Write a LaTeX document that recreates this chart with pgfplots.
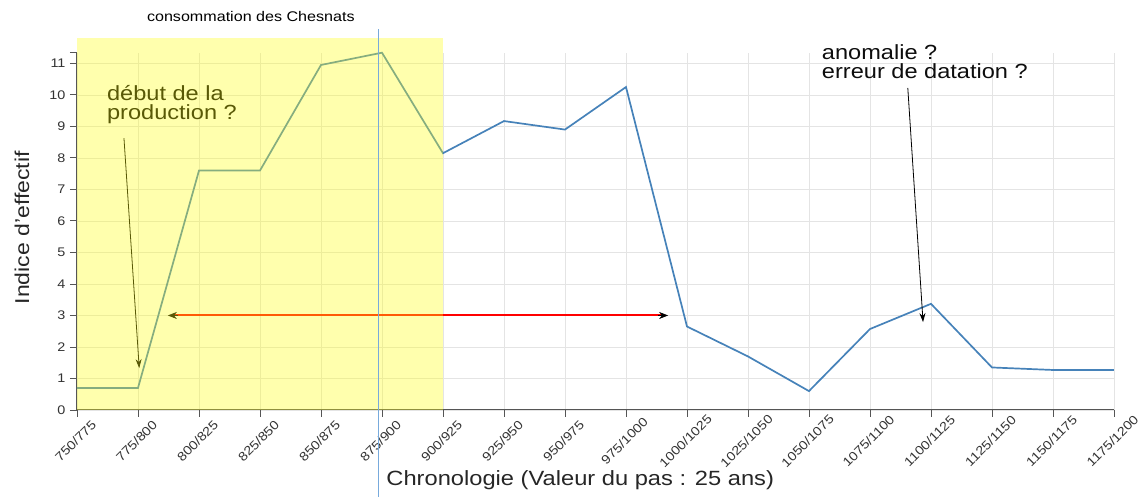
\documentclass[border=0pt]{standalone}
\usepackage{fontspec}
\setmainfont{Liberation Sans}[FakeStretch=1.15]
\usepackage{pgfplots}
\pgfplotsset{compat=1.18}
\usetikzlibrary{arrows.meta}
\definecolor{lineblue}{RGB}{70,130,185}
\definecolor{gridc}{RGB}{228,228,228}
\definecolor{axc}{RGB}{85,85,85}
\definecolor{yel}{RGB}{255,255,20}
\definecolor{vline}{RGB}{120,170,220}
\begin{document}
\begin{tikzpicture}
\begin{axis}[
  at={(0,0)}, anchor=south west,
  scale only axis, width=1037pt, height=357.3pt,
  xmin=0, xmax=17, ymin=0, ymax=11.34,
  axis x line*=bottom, axis y line*=left,
  axis line style={axc, line width=1pt},
  xtick={0,...,17},
  xticklabels={750/775,775/800,800/825,825/850,850/875,875/900,900/925,925/950,950/975,975/1000,1000/1025,1025/1050,1050/1075,1075/1100,1100/1125,1125/1150,1150/1175,1175/1200},
  ytick={0,...,11},
  extra y ticks={11.34}, extra y tick labels={}, extra y tick style={grid=none},
  tick style={axc, line width=0.9pt}, tick align=outside, major tick length=7pt,
  grid=major, grid style={gridc, line width=0.8pt},
  /pgf/number format/assume math mode=true,
  ticklabel style={font=\fontsize{12.5}{12.5}\selectfont, text=black!80},
  xticklabel style={yshift=-24pt, xshift=-1.5pt, rotate=45, anchor=center},
  yticklabel style={xshift=-1pt},
  clip=false,
]
\addplot[lineblue, line width=1.7pt, mark=none] coordinates {
(0,0.7) (1,0.7) (2,7.6) (3,7.6) (4,10.95) (5,11.34) (6,8.15) (7,9.17) (8,8.9)
(9,10.25) (10,2.65) (11,1.7) (12,0.6) (13,2.57) (14,3.37) (15,1.35) (16,1.27) (17,1.27)
};
% red double arrow
\addplot[color=red, line width=2pt, mark=none, forget plot] coordinates {(1.6,3) (9.58,3)};
\draw[black, line width=0.6pt, -{Stealth[length=9pt,width=7pt]}] (axis cs:1.66,3) -- (axis cs:1.49,3);
\draw[black, line width=0.6pt, -{Stealth[length=9pt,width=7pt]}] (axis cs:9.52,3) -- (axis cs:9.69,3);
% annotation arrows
\draw[black, line width=0.8pt, -{Stealth[length=9pt,width=6pt]}] (axis cs:0.77,8.63) -- (axis cs:1.02,1.33);
\draw[black, line width=0.8pt, -{Stealth[length=9pt,width=6pt]}] (axis cs:13.62,10.22) -- (axis cs:13.87,2.79);
% annotation texts
\node[anchor=north west, inner sep=0pt, align=left, font=\fontsize{20.5}{19}\selectfont, text=black] at (axis cs:0.49,10.32) {début de la\\production ?};
\node[anchor=north west, inner sep=0pt, align=left, font=\fontsize{20.5}{19}\selectfont, text=black!95] at (axis cs:12.21,11.6) {anomalie ?\\erreur de datation ?};
% yellow overlay
\fill[yel, opacity=0.35] (axis cs:0,0) rectangle (axis cs:6,11.8);
% vertical line
\draw[vline, line width=0.9pt] (axis cs:4.95,-2.8) -- (axis cs:4.95,12.08);
% title and labels
\node[font=\fontsize{14}{14}\selectfont, text=black] at (axis cs:2.85,12.5) {consommation des Chesnats};
\node[font=\fontsize{20.6}{20.6}\selectfont, text=black!85] at (axis cs:8.25,-2.22) {Chronologie (Valeur du pas : 25 ans)};
\node[font=\fontsize{20}{20}\selectfont, text=black!85, rotate=90] at (axis cs:-0.9,5.78) {Indice d'effectif};
\end{axis}
\pgfresetboundingbox
\path[use as bounding box] (-77pt,-87pt) rectangle (1067pt,410pt);
\end{tikzpicture}
\end{document}
